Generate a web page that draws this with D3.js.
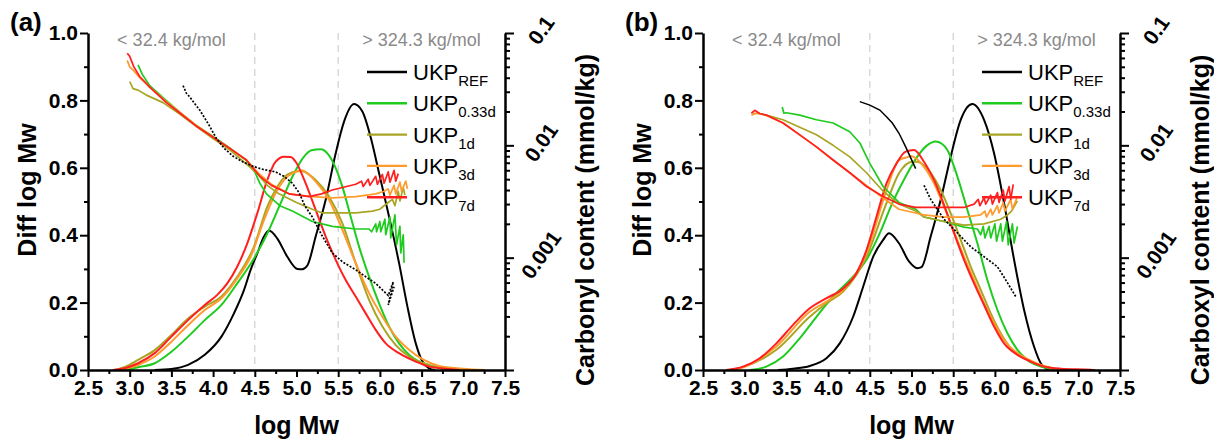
<!DOCTYPE html>
<html>
<head>
<meta charset="utf-8">
<script src="https://cdn.jsdelivr.net/npm/d3@7"></script>
<style>
  body { margin: 0; background: #fff; }
  svg { display: block; }
  text { font-family: "Liberation Sans", Arial, sans-serif; }
</style>
</head>
<body>
<svg id="chart" width="1214" height="442"></svg>
<script>
// ---- axis ticks and labels ----
const xTickVals = [2.5, 3.0, 3.5, 4.0, 4.5, 5.0, 5.5, 6.0, 6.5, 7.0, 7.5];
const xMinorVals = [2.75, 3.25, 3.75, 4.25, 4.75, 5.25, 5.75, 6.25, 6.75, 7.25];
const yTickVals = [0, 0.2, 0.4, 0.6, 0.8, 1.0];
const yMinorVals = [0.1, 0.3, 0.5, 0.7, 0.9];
const logTickVals = [0.1, 0.01, 0.001];
const logTickLabels = ["0.1", "0.01", "0.001"];
const splitMw = [4.5, 5.5];
const rangeNotes = ["< 32.4 kg/mol", "> 324.3 kg/mol"];

// ---- series ----
const seriesNames = ["REF", "0.33d", "1d", "3d", "7d"];
const seriesColors = ["#000000", "#1fcb1f", "#a9a524", "#ff9a2c", "#ff1f1f"];

// (a) molar mass distributions: [log Mw, diff log Mw]
const mwdRefA = [[3.3,0],[3.5,0.003],[3.7,0.015],[3.9,0.045],[4.1,0.099],[4.25,0.168],[4.37,0.237],[4.45,0.297],[4.53,0.346],[4.61,0.396],[4.67,0.414],[4.77,0.39],[4.89,0.336],[5.01,0.30],[5.07,0.299],[5.13,0.31],[5.23,0.396],[5.35,0.505],[5.47,0.643],[5.57,0.737],[5.69,0.789],[5.79,0.767],[5.89,0.69],[5.99,0.584],[6.11,0.455],[6.23,0.317],[6.33,0.188],[6.43,0.079],[6.51,0.025],[6.59,0.005],[6.66,0]];
const mwd033A = [[2.95,0],[3.1,0.008],[3.3,0.02],[3.5,0.054],[3.7,0.099],[3.9,0.148],[4.1,0.193],[4.29,0.257],[4.49,0.331],[4.65,0.405],[4.81,0.495],[4.97,0.583],[5.09,0.633],[5.18,0.652],[5.29,0.655],[5.38,0.64],[5.46,0.605],[5.55,0.544],[5.65,0.455],[5.75,0.366],[5.87,0.277],[5.99,0.198],[6.11,0.129],[6.23,0.079],[6.35,0.045],[6.51,0.02],[6.67,0.008],[6.85,0]];
const mwd1A = [[2.82,0],[2.95,0.01],[3.1,0.03],[3.3,0.059],[3.5,0.104],[3.7,0.153],[3.9,0.188],[4.1,0.218],[4.29,0.277],[4.49,0.366],[4.65,0.485],[4.77,0.544],[4.89,0.58],[5.01,0.59],[5.07,0.59],[5.15,0.58],[5.23,0.564],[5.39,0.515],[5.55,0.435],[5.71,0.317],[5.87,0.208],[6.03,0.129],[6.19,0.074],[6.35,0.04],[6.59,0.015],[6.83,0.004],[7.0,0]];
const mwd3A = [[2.86,0],[3.1,0.015],[3.3,0.04],[3.5,0.084],[3.7,0.133],[3.9,0.178],[4.1,0.213],[4.29,0.272],[4.45,0.336],[4.61,0.445],[4.77,0.534],[4.89,0.574],[5.01,0.59],[5.07,0.592],[5.15,0.58],[5.23,0.559],[5.39,0.505],[5.55,0.416],[5.71,0.317],[5.87,0.228],[6.03,0.158],[6.19,0.099],[6.35,0.06],[6.51,0.032],[6.71,0.012],[6.99,0.004],[7.26,0]];
const mwd7A = [[2.8,0],[2.95,0.006],[3.1,0.02],[3.3,0.05],[3.5,0.099],[3.7,0.148],[3.9,0.193],[4.05,0.223],[4.17,0.257],[4.29,0.307],[4.41,0.376],[4.53,0.465],[4.65,0.564],[4.75,0.618],[4.85,0.633],[4.93,0.632],[4.99,0.618],[5.11,0.554],[5.23,0.475],[5.35,0.396],[5.47,0.327],[5.59,0.267],[5.71,0.218],[5.83,0.168],[5.95,0.119],[6.07,0.079],[6.23,0.05],[6.43,0.025],[6.59,0.01],[6.79,0.004],[6.95,0]];

// (a) carbonyl content: [log Mw, mmol/kg]
const carbRefA = [[3.64,0.034],[3.68,0.029],[3.72,0.027],[3.77,0.024],[3.84,0.0206],[3.95,0.0152],[4.04,0.0115],[4.14,0.0093],[4.24,0.008],[4.36,0.0071],[4.48,0.0065],[4.6,0.0061],[4.75,0.0058],[4.85,0.0053],[4.95,0.0046],[5.03,0.0038],[5.1,0.0029],[5.19,0.0023],[5.3,0.0016],[5.43,0.0011],[5.55,0.00092],[5.71,0.00078],[5.85,0.00066],[5.95,0.00059],[6.05,0.0005],[6.1,0.00046],[6.16,0.00061],[6.1,0.00038],[6.17,0.00055]];
const carb033A = [[3.1,0.052],[3.15,0.043],[3.24,0.034],[3.44,0.025],[3.6,0.0197],[3.8,0.015],[4.0,0.012],[4.2,0.0095],[4.4,0.0073],[4.5,0.0058],[4.56,0.0046],[4.64,0.0037],[4.8,0.0029],[4.95,0.0026],[5.19,0.0021],[5.43,0.0019],[5.71,0.0018],[5.87,0.0018],[5.9,0.0017],[5.95,0.002],[5.96,0.0017],[6.0,0.0021],[6.01,0.0017],[6.06,0.0022],[6.07,0.0016],[6.12,0.0023],[6.13,0.0015],[6.18,0.0024],[6.2,0.0013],[6.24,0.0019],[6.25,0.0011],[6.28,0.0016],[6.29,0.0009]];
const carb1A = [[3.0,0.037],[3.04,0.032],[3.1,0.031],[3.2,0.028],[3.4,0.024],[3.6,0.019],[3.8,0.0147],[4.0,0.0115],[4.2,0.0091],[4.4,0.0068],[4.52,0.0057],[4.65,0.0044],[4.79,0.0037],[5.0,0.0031],[5.19,0.0027],[5.31,0.0025],[5.5,0.0025],[5.71,0.0025],[5.91,0.0026],[6.0,0.0027],[6.05,0.0029],[6.1,0.0031],[6.15,0.0033],[6.18,0.0029],[6.22,0.0039],[6.24,0.0032],[6.28,0.0042],[6.3,0.0036]];
const carb3A = [[2.97,0.057],[3.0,0.05],[3.05,0.046],[3.12,0.04],[3.24,0.033],[3.44,0.0245],[3.6,0.0197],[3.8,0.015],[4.0,0.0119],[4.2,0.0094],[4.4,0.0074],[4.56,0.0055],[4.7,0.0045],[4.91,0.0037],[5.19,0.0035],[5.43,0.0034],[5.71,0.0035],[5.95,0.0037],[6.05,0.0039],[6.1,0.0041],[6.12,0.0036],[6.17,0.0044],[6.19,0.0037],[6.24,0.0047],[6.26,0.0039],[6.31,0.0048],[6.33,0.0041]];
const carb7A = [[2.97,0.066],[3.0,0.062],[3.05,0.05],[3.12,0.041],[3.24,0.033],[3.44,0.024],[3.6,0.0194],[3.8,0.0148],[4.0,0.0118],[4.2,0.0094],[4.4,0.0074],[4.56,0.0053],[4.7,0.0044],[4.91,0.0037],[5.15,0.0035],[5.3,0.0037],[5.43,0.004],[5.6,0.0043],[5.71,0.0045],[5.78,0.0048],[5.8,0.0043],[5.86,0.005],[5.88,0.0044],[5.95,0.0053],[5.97,0.0045],[6.03,0.0055],[6.05,0.0046],[6.1,0.0058],[6.12,0.0047],[6.17,0.006],[6.19,0.0048],[6.22,0.0056]];

// (b) molar mass distributions
const mwdRefB = [[3.4,0],[3.58,0.004],[3.78,0.012],[3.98,0.035],[4.14,0.079],[4.3,0.158],[4.42,0.247],[4.54,0.336],[4.66,0.386],[4.73,0.406],[4.85,0.376],[4.97,0.322],[5.07,0.302],[5.12,0.305],[5.23,0.396],[5.35,0.505],[5.47,0.633],[5.59,0.742],[5.73,0.789],[5.87,0.742],[5.99,0.643],[6.11,0.495],[6.23,0.327],[6.35,0.178],[6.47,0.069],[6.55,0.02],[6.61,0.005],[6.65,0]];
const mwd033B = [[3.06,0],[3.26,0.01],[3.46,0.04],[3.66,0.094],[3.86,0.158],[4.06,0.218],[4.26,0.267],[4.46,0.327],[4.62,0.406],[4.77,0.495],[4.93,0.574],[5.07,0.633],[5.18,0.665],[5.29,0.678],[5.36,0.672],[5.43,0.653],[5.55,0.574],[5.67,0.475],[5.79,0.376],[5.91,0.267],[6.03,0.178],[6.15,0.109],[6.27,0.06],[6.39,0.03],[6.55,0.01],[6.71,0.003],[6.85,0]];
const mwd1B = [[2.86,0],[3.0,0.01],[3.38,0.06],[3.78,0.158],[3.98,0.198],[4.18,0.233],[4.46,0.336],[4.7,0.495],[4.85,0.584],[5.01,0.618],[5.07,0.618],[5.23,0.584],[5.35,0.534],[5.47,0.465],[5.59,0.386],[5.71,0.307],[5.83,0.238],[5.95,0.168],[6.07,0.109],[6.19,0.065],[6.35,0.035],[6.51,0.017],[6.67,0.006],[6.8,0]];
const mwd3B = [[2.82,0],[2.98,0.008],[3.38,0.07],[3.78,0.173],[3.98,0.203],[4.18,0.237],[4.46,0.346],[4.7,0.534],[4.85,0.623],[4.97,0.633],[4.99,0.635],[5.15,0.603],[5.27,0.554],[5.39,0.485],[5.51,0.41],[5.63,0.336],[5.75,0.267],[5.87,0.198],[5.99,0.139],[6.11,0.089],[6.27,0.05],[6.43,0.028],[6.59,0.012],[6.8,0]];
const mwd7B = [[2.78,0],[2.98,0.01],[3.18,0.035],[3.38,0.079],[3.58,0.134],[3.78,0.183],[3.98,0.213],[4.18,0.242],[4.34,0.287],[4.46,0.356],[4.58,0.455],[4.7,0.554],[4.82,0.613],[4.93,0.648],[5.03,0.653],[5.15,0.618],[5.27,0.564],[5.39,0.49],[5.51,0.406],[5.63,0.327],[5.75,0.257],[5.87,0.193],[5.99,0.129],[6.11,0.079],[6.27,0.045],[6.43,0.025],[6.59,0.01],[6.79,0.004],[7.15,0.001],[7.2,0]];

// (b) carboxyl content
const carbRefB = [[4.38,0.0245],[4.5,0.0228],[4.62,0.0206],[4.7,0.018],[4.77,0.0158],[4.85,0.0128],[4.93,0.0097],[5.05,0.0062],[5.15,0.0044],[5.23,0.0033],[5.39,0.0022],[5.55,0.00166],[5.71,0.00125],[5.87,0.00102],[6.03,0.00083],[6.11,0.00067],[6.2,0.00052],[6.25,0.00045]];
const carb033B = [[3.45,0.0219],[3.47,0.0193],[3.5,0.0195],[3.66,0.0186],[3.86,0.0169],[4.06,0.0158],[4.26,0.0132],[4.38,0.0105],[4.5,0.0069],[4.66,0.0043],[4.85,0.0031],[5.05,0.0027],[5.15,0.0023],[5.39,0.0021],[5.63,0.00187],[5.79,0.0018],[5.83,0.0016],[5.86,0.0019],[5.88,0.0015],[5.93,0.0019],[5.95,0.0015],[6.0,0.002],[6.02,0.0014],[6.07,0.002],[6.09,0.0014],[6.14,0.0021],[6.16,0.0013],[6.21,0.002],[6.23,0.00135],[6.27,0.0019]];
const carb1B = [[3.1,0.0193],[3.2,0.019],[3.3,0.0182],[3.46,0.0169],[3.66,0.0145],[3.86,0.0124],[4.06,0.01],[4.26,0.0079],[4.46,0.0057],[4.66,0.0039],[4.85,0.003],[5.05,0.0026],[5.15,0.0023],[5.39,0.0021],[5.63,0.00195],[5.87,0.002],[6.07,0.0022],[6.15,0.0024],[6.2,0.0026],[6.27,0.0032]];
const carb3B = [[3.08,0.0185],[3.15,0.0195],[3.26,0.0184],[3.46,0.0158],[3.66,0.0124],[3.86,0.0097],[4.06,0.0074],[4.26,0.0057],[4.46,0.0044],[4.66,0.0034],[4.85,0.0027],[5.05,0.0025],[5.15,0.0024],[5.39,0.0023],[5.63,0.0023],[5.83,0.0024],[5.88,0.0026],[5.9,0.0023],[5.95,0.0027],[5.97,0.0024],[6.03,0.0029],[6.05,0.0025],[6.1,0.0031],[6.12,0.0026],[6.19,0.0033],[6.21,0.0027],[6.27,0.0035]];
const carb7B = [[3.08,0.0193],[3.12,0.0205],[3.18,0.0192],[3.26,0.0186],[3.46,0.0158],[3.66,0.0124],[3.86,0.0097],[4.06,0.0074],[4.26,0.0057],[4.46,0.0043],[4.66,0.0035],[4.85,0.003],[5.05,0.0028],[5.39,0.0028],[5.63,0.0028],[5.75,0.003],[5.8,0.0033],[5.82,0.0029],[5.87,0.0034],[5.89,0.003],[5.95,0.0036],[5.97,0.003],[6.03,0.0038],[6.05,0.0031],[6.1,0.004],[6.12,0.0032],[6.17,0.0043],[6.19,0.0033],[6.22,0.0045]];

// ---- layout ----
const plotTop = 33, plotBottom = 370, plotWidth = 417;
const fontTick = 21, fontTitle = 25;

const panels = [
  { tag: "(a)", left: 88, rightTitle: "Carbonyl content (mmol/kg)",
    mwd: [mwdRefA, mwd033A, mwd1A, mwd3A, mwd7A],
    content: [carbRefA, carb033A, carb1A, carb3A, carb7A], refDotFrom: 0 },
  { tag: "(b)", left: 703, rightTitle: "Carboxyl content (mmol/kg)",
    mwd: [mwdRefB, mwd033B, mwd1B, mwd3B, mwd7B],
    content: [carbRefB, carb033B, carb1B, carb3B, carb7B], refDotFrom: 5.1 }
];

const svg = d3.select("#chart");

function styleAxis(g, width) {
  g.select(".domain").attr("stroke", "#000").attr("stroke-width", width);
  g.selectAll(".tick line").attr("stroke", "#000").attr("stroke-width", 2);
}

function styleLabels(g) {
  g.selectAll("text").attr("font-size", fontTick).attr("font-weight", "bold")
    .attr("fill", "#000").attr("font-family", "'Liberation Sans', Arial, sans-serif");
}

function drawPanel(p) {
  const g = svg.append("g");
  const right = p.left + plotWidth;
  const x = d3.scaleLinear().domain([2.5, 7.5]).range([p.left, right]);
  const y = d3.scaleLinear().domain([0, 1]).range([plotBottom, plotTop]);
  const yr = d3.scaleLog().domain([1e-4, 0.1]).range([plotBottom, plotTop]);

  // molar mass boundaries
  g.selectAll("line.split").data(splitMw).join("line")
    .attr("class", "split")
    .attr("x1", d => x(d)).attr("x2", d => x(d))
    .attr("y1", plotTop).attr("y2", plotBottom)
    .attr("stroke", "#cfcfcf").attr("stroke-width", 1.2)
    .attr("stroke-dasharray", "7,5");

  g.selectAll("text.note").data(rangeNotes).join("text")
    .attr("class", "note")
    .attr("x", (d, i) => x(i === 0 ? 3.5 : 6.5))
    .attr("y", 46)
    .attr("text-anchor", "middle")
    .attr("font-size", 18).attr("fill", "#8a8a8a")
    .text(d => d);

  // distributions
  const line = d3.line().x(d => x(d[0])).y(d => y(d[1])).curve(d3.curveMonotoneX);
  const order = [0, 1, 2, 3, 4];
  g.selectAll("path.mwd").data(order).join("path")
    .attr("class", "mwd")
    .attr("d", i => line(p.mwd[i]))
    .attr("fill", "none")
    .attr("stroke", i => seriesColors[i])
    .attr("stroke-width", 2)
    .attr("stroke-linejoin", "round");

  // functional-group content on the log axis
  const cline = d3.line().x(d => x(d[0])).y(d => yr(d[1]));
  g.selectAll("path.content").data([1, 2, 3, 4]).join("path")
    .attr("class", "content")
    .attr("d", i => cline(p.content[i]))
    .attr("fill", "none")
    .attr("stroke", i => seriesColors[i])
    .attr("stroke-width", 1.7)
    .attr("stroke-linejoin", "round");

  // reference series: solid part, then the sparse dotted part
  const ref = p.content[0];
  const solidPart = ref.filter(d => d[0] <= p.refDotFrom);
  const dotPart = ref.filter((d, k) => d[0] >= p.refDotFrom || (k > 0 && ref[k - 1][0] > p.refDotFrom));
  if (solidPart.length > 1) {
    g.append("path").attr("d", cline(solidPart)).attr("fill", "none")
      .attr("stroke", "#000").attr("stroke-width", 1.5);
  }
  g.append("path").attr("d", cline(dotPart)).attr("fill", "none")
    .attr("stroke", "#000").attr("stroke-width", 1.7)
    .attr("stroke-dasharray", "2,1.6");

  // axes
  const ax = g.append("g").attr("transform", `translate(0,${plotBottom})`)
    .call(d3.axisBottom(x).tickValues(xTickVals).tickFormat(d3.format(".1f"))
      .tickSize(7).tickSizeOuter(0).tickPadding(3));
  styleAxis(ax, 2.5);
  styleLabels(ax);
  const axm = g.append("g").attr("transform", `translate(0,${plotBottom})`)
    .call(d3.axisBottom(x).tickValues(xMinorVals).tickFormat("").tickSize(4).tickSizeOuter(0));
  axm.select(".domain").remove();
  axm.selectAll(".tick line").attr("stroke", "#000").attr("stroke-width", 2);

  const ay = g.append("g").attr("transform", `translate(${p.left},0)`)
    .call(d3.axisLeft(y).tickValues(yTickVals).tickFormat(d3.format(".1f"))
      .tickSize(8).tickSizeOuter(0).tickPadding(2));
  styleAxis(ay, 2.5);
  styleLabels(ay);
  const aym = g.append("g").attr("transform", `translate(${p.left},0)`)
    .call(d3.axisLeft(y).tickValues(yMinorVals).tickFormat("").tickSize(4).tickSizeOuter(0));
  aym.select(".domain").remove();
  aym.selectAll(".tick line").attr("stroke", "#000").attr("stroke-width", 2);

  // log axis on the right
  const majors = [1e-4, 1e-3, 1e-2, 1e-1];
  const minors = [];
  [1e-4, 1e-3, 1e-2].forEach(dec => { for (let m = 2; m <= 9; m++) minors.push(m * dec); });
  const ar = g.append("g").attr("transform", `translate(${right},0)`)
    .call(d3.axisRight(yr).tickValues(majors).tickFormat("").tickSize(9).tickSizeOuter(0));
  styleAxis(ar, 2.5);
  const arm = g.append("g").attr("transform", `translate(${right},0)`)
    .call(d3.axisRight(yr).tickValues(minors).tickFormat("").tickSize(5).tickSizeOuter(0));
  arm.select(".domain").remove();
  arm.selectAll(".tick line").attr("stroke", "#000").attr("stroke-width", 2);

  g.selectAll("text.logtick").data(logTickVals).join("text")
    .attr("class", "logtick")
    .attr("transform", d => `translate(${right + 36},${yr(d) - 3}) rotate(-55)`)
    .attr("text-anchor", "middle").attr("dominant-baseline", "central")
    .attr("font-size", fontTick).attr("font-weight", "bold")
    .text((d, i) => logTickLabels[i]);

  // axis titles
  g.append("text")
    .attr("transform", `translate(${p.left - 52},190) rotate(-90)`)
    .attr("text-anchor", "middle").attr("font-size", fontTitle).attr("font-weight", "bold")
    .text("Diff log Mw");
  g.append("text")
    .attr("x", (p.left + right) / 2).attr("y", 434)
    .attr("text-anchor", "middle").attr("font-size", fontTitle).attr("font-weight", "bold")
    .text("log Mw");
  g.append("text")
    .attr("transform", `translate(${right + 89},220) rotate(-90)`)
    .attr("text-anchor", "middle").attr("font-size", fontTitle).attr("font-weight", "bold")
    .text(p.rightTitle);

  g.append("text")
    .attr("x", p.left - 78).attr("y", 31)
    .attr("font-size", 26).attr("font-weight", "bold")
    .text(p.tag);

  // legend
  const lg = g.selectAll("g.legend").data(order).join("g")
    .attr("class", "legend")
    .attr("transform", i => `translate(${right - 138},${72 + i * 31.3})`);
  lg.append("line").attr("x1", 0).attr("x2", 40).attr("y1", 0).attr("y2", 0)
    .attr("stroke", i => seriesColors[i]).attr("stroke-width", 2.4);
  const lt = lg.append("text").attr("x", 46).attr("y", 8).attr("font-size", 22);
  lt.append("tspan").text("UKP");
  lt.append("tspan").attr("dy", 6).attr("font-size", 15).text(i => seriesNames[i]);
}

panels.forEach(drawPanel);
</script>
</body>
</html>
